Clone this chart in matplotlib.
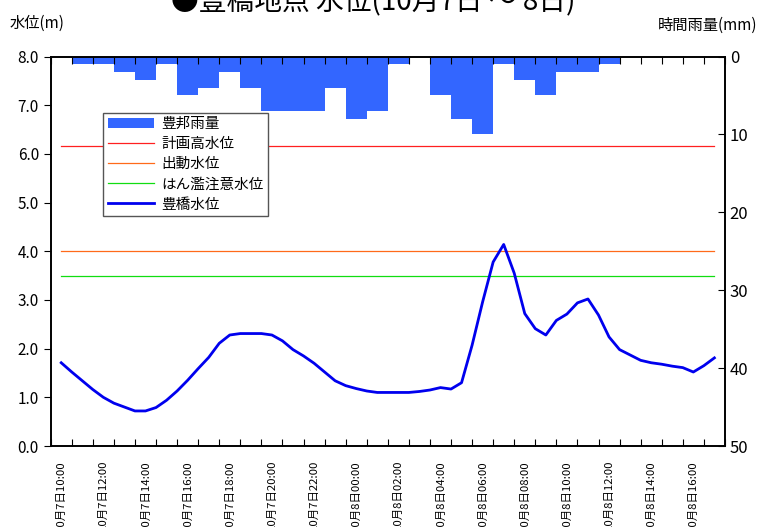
import numpy as np
import matplotlib
matplotlib.use('Agg')
import matplotlib.pyplot as plt

plt.rcParams['font.family'] = ['Noto Sans CJK JP', 'DejaVu Sans']

# hourly categories, 10:00 on 7th .. 17:00 on 8th
times = ['10月%d日%02d:00' % (7 if h < 24 else 8, h % 24) for h in range(10, 42)]
rain = [0, 1, 1, 2, 3, 1, 5, 4, 2, 4, 7, 7, 7, 4, 8, 7,
        1, 0, 5, 8, 10, 1, 3, 5, 2, 2, 1, 0, 0, 0, 0, 0]

# water level read at half hour steps (hours after 10:00)
level_t = [0, 0.5, 1, 1.5, 2, 2.5, 3, 3.5, 4, 4.5, 5, 5.5, 6, 6.5, 7, 7.5,
           8, 8.5, 9, 9.5, 10, 10.5, 11, 11.5, 12, 12.5, 13, 13.5, 14, 14.5,
           15, 15.5, 16, 16.5, 17, 17.5, 18, 18.5, 19, 19.5, 20, 20.5, 21,
           21.5, 22, 22.5, 23, 23.5, 24, 24.5, 25, 25.5, 26, 26.5, 27, 27.5,
           28, 28.5, 29, 29.5, 30, 30.5, 31]
level = [1.71, 1.52, 1.34, 1.16, 1.00, 0.88, 0.80, 0.72, 0.72, 0.79, 0.94,
         1.13, 1.35, 1.59, 1.82, 2.11, 2.28, 2.31, 2.31, 2.31, 2.28, 2.16,
         1.98, 1.85, 1.70, 1.52, 1.34, 1.24, 1.18, 1.13, 1.10, 1.10, 1.10,
         1.10, 1.12, 1.15, 1.20, 1.17, 1.30, 2.07, 2.96, 3.78, 4.14, 3.55,
         2.72, 2.41, 2.28, 2.58, 2.71, 2.94, 3.02, 2.69, 2.24, 1.98, 1.87,
         1.76, 1.71, 1.68, 1.64, 1.61, 1.52, 1.65, 1.81]

plan_level = 6.16      # 計画高水位
dispatch_level = 4.0   # 出動水位
warning_level = 3.5    # はん濫注意水位

fig = plt.figure(figsize=(7.61, 5.27), dpi=100)
ax = fig.add_axes([0.0666, 0.1537, 0.886, 0.739])
ax2 = ax.twinx()

x = np.arange(len(times))
bars = ax2.bar(x, rain, width=1.0, color='#3366ff', label='豊邦雨量')
ax2.set_ylim(50, 0)
ax2.set_yticks([0, 10, 20, 30, 40, 50])
ax2.tick_params(axis='y', direction='in', labelsize=12, length=5)

ends = [x[0], x[-1]]
l1, = ax.plot(ends, [plan_level] * 2, color='#ff2020', lw=0.9, label='計画高水位')
l2, = ax.plot(ends, [dispatch_level] * 2, color='#ff6a1a', lw=0.9, label='出動水位')
l3, = ax.plot(ends, [warning_level] * 2, color='#11dd11', lw=0.9, label='はん濫注意水位')
l4, = ax.plot(level_t, level, color='#0000ee', lw=2.0, label='豊橋水位')
ax.set_zorder(ax2.get_zorder() + 1)
ax.patch.set_visible(False)

ax.set_ylim(0, 8)
ax.set_yticks(np.arange(0, 8.1, 1))
ax.set_yticklabels(['%.1f' % v for v in np.arange(0, 8.1, 1)])
ax.tick_params(axis='y', direction='out', labelsize=11, length=5)

ax.set_xlim(-0.5, len(times) - 0.5)
ax.set_xticks(np.arange(-0.5, len(times), 1))
ax.set_xticklabels([])
ax.tick_params(axis='x', which='major', direction='in', length=5, top=True)
ax.set_xticks(x[::2], minor=True)
ax.set_xticklabels(times[::2], minor=True, rotation=90, fontsize=8.2, va='top', ha='center')
ax.tick_params(axis='x', which='minor', length=0, pad=10)

for a in (ax, ax2):
    for s in a.spines.values():
        s.set_color('black')
        s.set_linewidth(1.2)

leg = ax.legend([bars, l1, l2, l3, l4], ['豊邦雨量', '計画高水位', '出動水位', 'はん濫注意水位', '豊橋水位'],
                loc='upper left', bbox_to_anchor=(0.078, 0.856), borderaxespad=0,
                fontsize=10.5, fancybox=False, framealpha=1, edgecolor='#555555',
                handlelength=3.2, labelspacing=0.42, borderpad=0.3, handletextpad=0.5)
leg.get_frame().set_linewidth(1.0)

fig.text(0.49, 0.995, '●豊橋地点 水位(10月7日 ～ 8日)', fontsize=20, ha='center', va='center')
fig.text(0.013, 0.955, '水位(m)', fontsize=11, ha='left', va='center')
fig.text(0.995, 0.952, '時間雨量(mm)', fontsize=11, ha='right', va='center')

fig.savefig('out.png', dpi=100)
